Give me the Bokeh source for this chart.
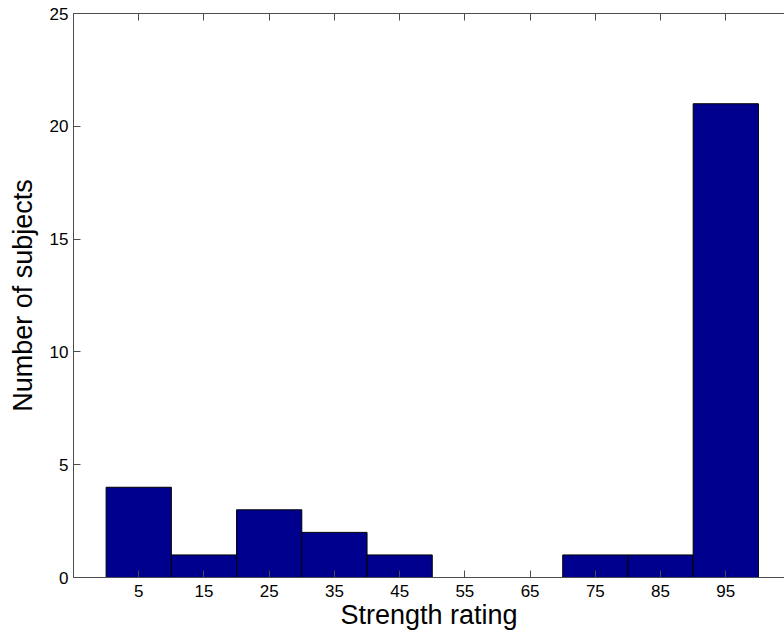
from bokeh.plotting import figure
from bokeh.models import LinearAxis, FixedTicker, Range1d, CustomJSTickFormatter
from bokeh.embed import file_html
from bokeh.resources import INLINE

bin_centers = [5, 15, 25, 35, 45, 55, 65, 75, 85, 95]
counts = [4, 1, 3, 2, 1, 0, 0, 1, 1, 21]
bin_width = 10
y_ticks = [0, 5, 10, 15, 20, 25]
x_label = "Strength rating"
y_label = "Number of subjects"

FONT = "Liberation Sans"
AX = "#4d4d4d"

p = figure(width=784, height=636, output_backend="svg", toolbar_location=None,
           x_range=Range1d(-5, 104), y_range=Range1d(0, 25),
           min_border_left=73, min_border_right=0, min_border_top=13, min_border_bottom=59,
           x_axis_location=None, y_axis_location=None)
p.outline_line_color = None
p.xgrid.visible = False
p.ygrid.visible = False
p.background_fill_color = "white"
p.border_fill_color = "white"

lefts = [c - bin_width / 2 for c in bin_centers]
rights = [c + bin_width / 2 for c in bin_centers]
p.quad(left=lefts, right=rights, bottom=0, top=counts,
       fill_color="#00008F", line_color="#000000", line_width=1)

def style(ax):
    ax.axis_line_color = AX
    ax.axis_line_width = 1
    ax.major_tick_line_color = AX
    ax.major_tick_in = 7
    ax.major_tick_out = 0
    ax.minor_tick_line_color = None
    ax.major_label_text_font = FONT
    ax.major_label_text_font_size = "17px"
    ax.major_label_text_color = "#000000"
    ax.axis_label_text_font = FONT
    ax.axis_label_text_font_style = "normal"
    ax.axis_label_text_font_size = "27px"
    ax.axis_label_text_color = "#000000"

xb = LinearAxis(ticker=FixedTicker(ticks=bin_centers), axis_label=x_label)
style(xb)
xb.major_label_standoff = 7
xb.axis_label_standoff = 0
p.add_layout(xb, "below")

xt = LinearAxis(ticker=FixedTicker(ticks=bin_centers),
                formatter=CustomJSTickFormatter(code="return ''"))
style(xt)
xt.major_label_standoff = 0
p.add_layout(xt, "above")

yl = LinearAxis(ticker=FixedTicker(ticks=y_ticks), axis_label=y_label)
style(yl)
yl.major_label_standoff = 5
yl.axis_label_standoff = 9
p.add_layout(yl, "left")

open("out.html", "w").write(file_html(p, INLINE))
